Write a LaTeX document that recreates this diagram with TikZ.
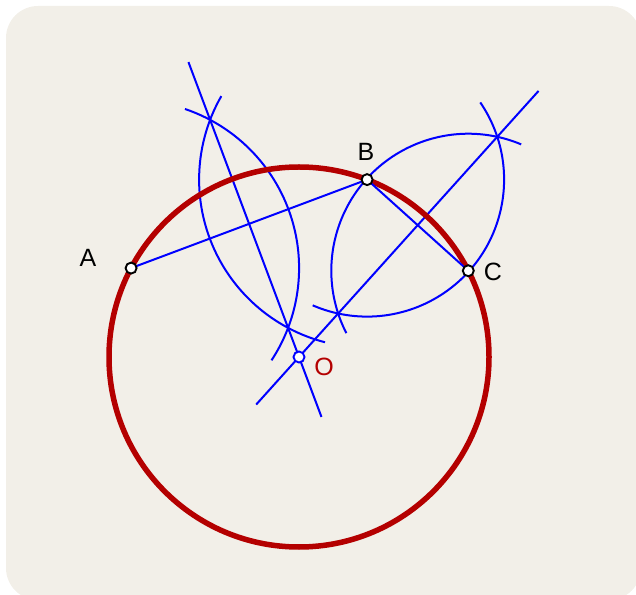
\documentclass[tikz,border=0pt]{standalone}
\usepackage{fontspec}
\setmainfont{Liberation Sans}
\usetikzlibrary{calc}
\definecolor{bgc}{RGB}{242,239,232}
\definecolor{redc}{RGB}{180,0,0}
\definecolor{bluec}{RGB}{0,0,255}
\tikzset{
  con/.style={draw=bluec, line width=2pt},
  dotmark/.style={circle, draw=black, fill=white, line width=1.9pt, inner sep=0pt, minimum size=11pt},
  lbl/.style={font=\fontsize{25}{25}\selectfont, inner sep=0pt},
}
\begin{document}
\begin{tikzpicture}[x=1pt,y=1pt]
\useasboundingbox (0,0) rectangle (636,594);
\begin{scope}
\clip (0,0) rectangle (636,594);
\fill[bgc, rounded corners=32pt] (6,-6) rectangle (641,588);
\end{scope}
\coordinate (O) at (299,237);
\coordinate (A) at ($(O)+(152.1:190)$);
\coordinate (B) at ($(O)+(69.0:190)$);
\coordinate (C) at ($(O)+(27.0:190)$);
\coordinate (Mab) at ($(A)!0.5!(B)$);
\coordinate (Mbc) at ($(B)!0.5!(C)$);
\coordinate (Pab1) at ($(O)!315pt!(Mab)$);
\coordinate (Pab2) at ($(O)!-64pt!(Mab)$);
\coordinate (Pbc1) at ($(O)!358pt!(Mbc)$);
\coordinate (Pbc2) at ($(O)!-64pt!(Mbc)$);
% construction
\draw[con] (Pab1) -- (Pab2);
\draw[con] (Pbc1) -- (Pbc2);
\draw[con] ($(A)+(71.3:168)$) arc[start angle=71.3, end angle=-33.3, radius=168];
\draw[con] ($(B)+(150.2:168)$) arc[start angle=150.2, end angle=255.5, radius=168];
\draw[con] ($(B)+(34.3:137)$) arc[start angle=34.3, end angle=-113.4, radius=137];
\draw[con] ($(C)+(67.3:137)$) arc[start angle=67.3, end angle=207.1, radius=137];
% circle
\draw[redc, line width=5.5pt] (O) circle[radius=190];
\draw[con] (A) -- (B) -- (C);
% points
\node[dotmark] (nA) at (A) {};
\node[dotmark] (nB) at (B) {};
\node[dotmark] (nC) at (C) {};
\node[dotmark, draw=bluec] (nO) at (O) {};
\node[lbl] (lA) at (88,336) {A};
\node[lbl] (lB) at (366,442) {B};
\node[lbl] (lC) at (493,322) {C};
\node[lbl, text=redc] (lO) at (324,227) {O};
\end{tikzpicture}
\end{document}
